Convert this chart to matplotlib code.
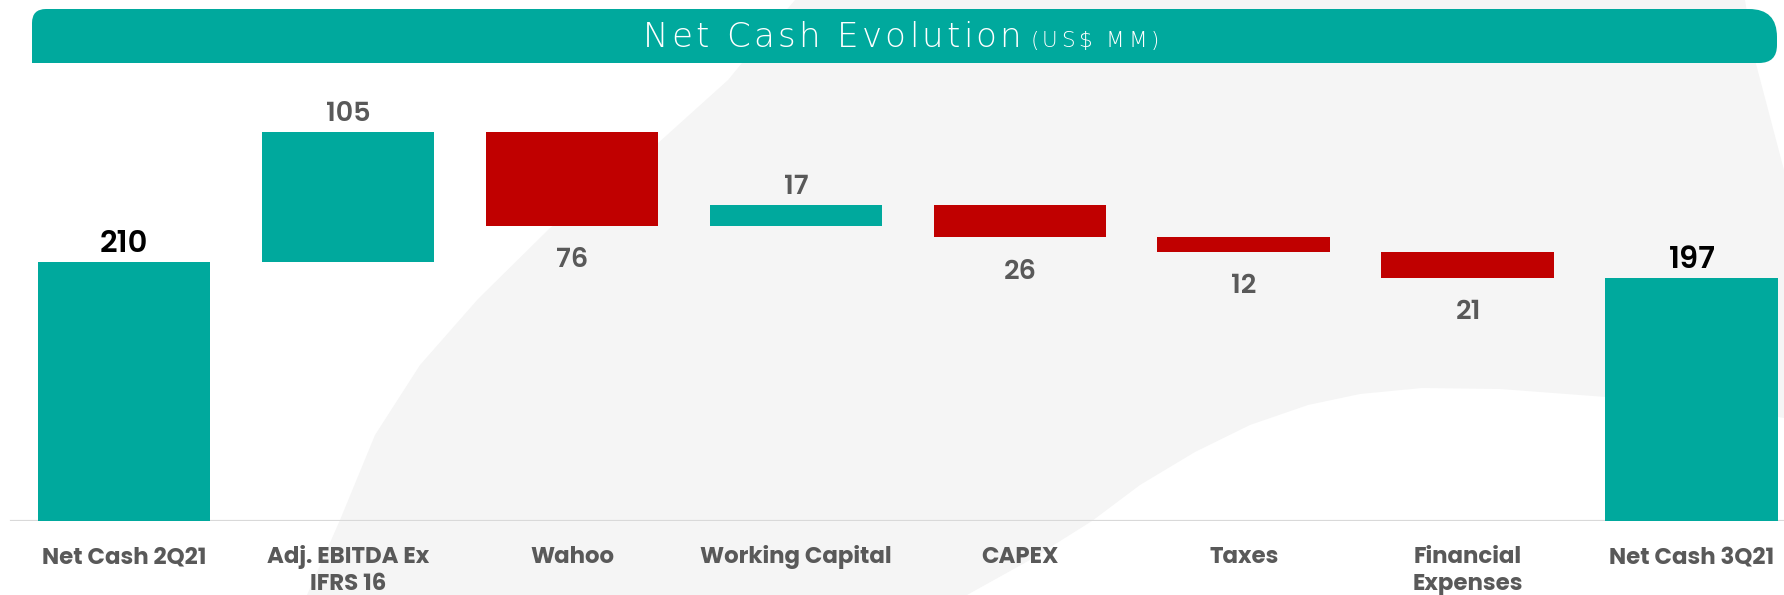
import matplotlib
matplotlib.use('Agg')
import matplotlib.pyplot as plt
import matplotlib.font_manager as fm
from matplotlib.path import Path
from matplotlib.patches import PathPatch, Polygon
from matplotlib.transforms import blended_transform_factory

_names = {f.name for f in fm.fontManager.ttflist}
FONT = 'Poppins' if 'Poppins' in _names else 'Open Sans'
plt.rcParams['font.family'] = [FONT, 'DejaVu Sans']

# --- data ---
categories = ['Net Cash 2Q21', 'Adj. EBITDA Ex\nIFRS 16', 'Wahoo', 'Working Capital',
              'CAPEX', 'Taxes', 'Financial\nExpenses', 'Net Cash 3Q21']
values = [210, 105, -76, 17, -26, -12, -21, 197]
is_total = [True, False, False, False, False, False, False, True]
title = 'Net Cash Evolution'
unit = '(US$ MM)'

TEAL = '#00A99D'
RED = '#C00000'
GRAY_TXT = '#595959'
W, H = 1784, 595

fig = plt.figure(figsize=(W / 100, H / 100), dpi=100)
fig.patch.set_facecolor('white')


def fx(px):
    return px / W


def fy(py):  # py measured from top
    return 1 - py / H


# decorative light-grey arch in the background
bg = [(307, 595), (340, 520), (375, 435), (420, 365), (478, 299), (550, 228), (637, 162),
      (728, 80), (765, 35), (795, 0), (1745, 0), (1755, 60), (1784, 170), (1784, 418),
      (1700, 404), (1593, 396), (1500, 389), (1422, 388), (1360, 394), (1308, 405),
      (1250, 425), (1195, 452), (1140, 485), (1092, 521), (1030, 560), (967, 595)]
fig.add_artist(Polygon([(fx(x), fy(y)) for x, y in bg], closed=True, transform=fig.transFigure,
                       facecolor='#F5F5F5', edgecolor='none', zorder=-5))

# title banner (rounded right end)
x0, x1, yt, yb = 32, 1777, 9, 63
rtl, rtr, rbr = 14, 28, 18
verts = [(x0, yb), (x0, yt + rtl), (x0, yt), (x0 + rtl, yt), (x1 - rtr, yt), (x1, yt), (x1, yt + rtr),
         (x1, yb - rbr), (x1, yb), (x1 - rbr, yb), (x0, yb)]
codes = [Path.MOVETO, Path.LINETO, Path.CURVE3, Path.CURVE3, Path.LINETO, Path.CURVE3, Path.CURVE3,
         Path.LINETO, Path.CURVE3, Path.CURVE3, Path.CLOSEPOLY]
fig.add_artist(PathPatch(Path([(fx(x), fy(y)) for x, y in verts], codes), transform=fig.transFigure,
                         facecolor=TEAL, edgecolor='none', zorder=1))

# --- waterfall ---
ax = fig.add_axes([0, 74 / H, 1, 461.5 / H])
ax.set_facecolor('none')
bottoms, heights, colors = [], [], []
running = 0
for v, tot in zip(values, is_total):
    if tot:
        bottoms.append(0)
        heights.append(v)
        colors.append(TEAL)
        running = v
    else:
        bottoms.append(running + min(v, 0))
        heights.append(abs(v))
        colors.append(TEAL if v > 0 else RED)
        running += v
xs = list(range(len(values)))
ax.bar(xs, heights, bottom=bottoms, width=0.772, color=colors, zorder=3)
ax.axhline(0, xmin=11 / W, xmax=1, color='#D9D9D9', lw=2.3, zorder=2)
ax.set_xlim(-0.5536, 7.411)
ax.set_ylim(0, 461.5 / 1.2354)
ax.axis('off')

for x, b, h, v, tot in zip(xs, bottoms, heights, values, is_total):
    if tot:
        ax.annotate(f'{abs(v)}', (x, b + h), xytext=(0, 7), textcoords='offset points',
                    ha='center', va='baseline', fontsize=22, fontweight='semibold', color='black')
    elif v > 0:
        ax.annotate(f'{abs(v)}', (x, b + h), xytext=(0, 8), textcoords='offset points',
                    ha='center', va='baseline', fontsize=19.5, fontweight='semibold', color=GRAY_TXT)
    else:
        ax.annotate(f'{abs(v)}', (x, b), xytext=(0, -30), textcoords='offset points',
                    ha='center', va='baseline', fontsize=19.5, fontweight='semibold', color=GRAY_TXT)

# category labels, one text per line so every first line shares a baseline
trans = blended_transform_factory(ax.transData, fig.transFigure)
for x, lab in zip(xs, categories):
    for i, line in enumerate(lab.split('\n')):
        ax.text(x, fy(563 + 27 * i), line, transform=trans, ha='center', va='baseline',
                fontsize=16.5, fontweight='bold', color=GRAY_TXT)

# title: thin, slightly letter-spaced text, centred on the banner
r = fig.canvas.get_renderer()
tfont = ['DejaVu Sans', FONT]


def advances(s, size, track):
    # advance width of each glyph: width('n' + ch + 'n') - width('nn')
    prop = fm.FontProperties(family=tfont, weight=200, size=size)
    base = r.get_text_width_height_descent('nn', prop, ismath=False)[0]
    return [r.get_text_width_height_descent('n' + ch + 'n', prop, ismath=False)[0] - base + track
            for ch in s]


parts = [(title, 24.5, 3.2), (unit, 15.5, 3.5)]
widths = [advances(s, size, track) for s, size, track in parts]
gap = 9
total = sum(sum(w) for w in widths) + gap
cur = 904 - total / 2
for (s, size, track), ws in zip(parts, widths):
    for ch, w in zip(s, ws):
        if ch != ' ':
            fig.text(fx(cur), fy(47), ch, ha='left', va='baseline', fontsize=size,
                     fontweight=200, family=tfont, color='white', zorder=2)
        cur += w
    cur += gap - track

fig.savefig('out.png', dpi=100, facecolor='white')
